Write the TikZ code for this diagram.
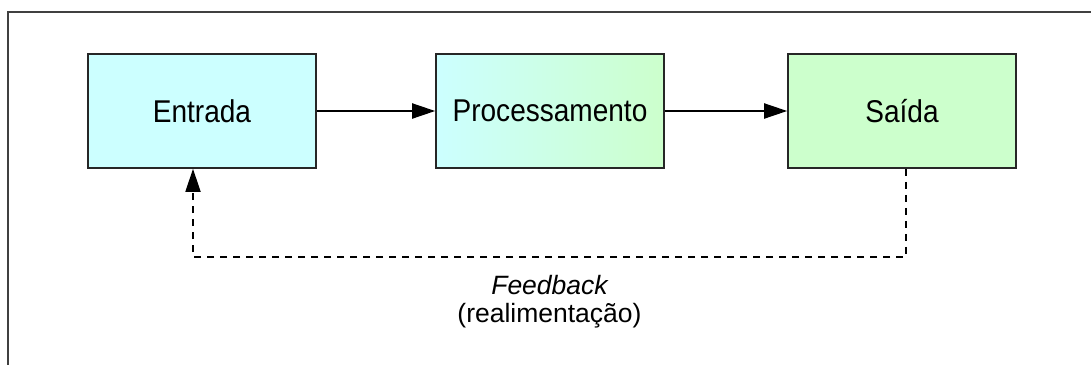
\documentclass[tikz,border=0pt]{standalone}
\usepackage{fontspec}
\setmainfont{Liberation Sans}
\newfontfamily\narrowfont[FakeStretch=0.89]{Liberation Sans}
\usetikzlibrary{arrows.meta}
\definecolor{inblue}{HTML}{CCFFFF}
\definecolor{outgreen}{HTML}{CCFFCC}
\begin{document}
\begin{tikzpicture}[x=1pt,y=-1pt,
 >={Triangle[length=23pt,width=15pt]},
 stage/.style={draw=black!85,line width=1.6pt,minimum width=228pt,minimum height=114pt,
  inner sep=0pt,font=\narrowfont\fontsize{31.5}{34}\selectfont},
 flow/.style={->,line width=2pt},
 fbline/.style={->,line width=1.8pt,dash pattern=on 7pt off 6pt},
 note/.style={anchor=base,inner sep=0pt,font=\fontsize{26.5}{30}\selectfont}]
 \useasboundingbox (0,0) rectangle (1091,365);
 % frame
 \draw[line width=1.6pt,black!75] (1091,12) -- (8,12) -- (8,365);
 % stages
 \node[stage,fill=inblue] (entrada) at (202,111) {Entrada};
 \node[stage,left color=inblue,right color=outgreen] (proc) at (550,111) {Processamento};
 \node[stage,fill=outgreen] (saida) at (902,111) {Saída};
 \draw[flow] (entrada) -- (proc);
 \draw[flow] (proc) -- (saida);
 % feedback
 \coordinate (fbR) at (906,257);
 \coordinate (fbL) at (193,257);
 \draw[fbline] (saida.south -| fbR) -- (fbR) -- (fbL) -- (fbL |- entrada.south);
 \node[note] (fb) at (549.5,294) {\itshape Feedback};
 \node[note] (fbsub) at (549.5,322) {(realimentação)};
\end{tikzpicture}
\end{document}
